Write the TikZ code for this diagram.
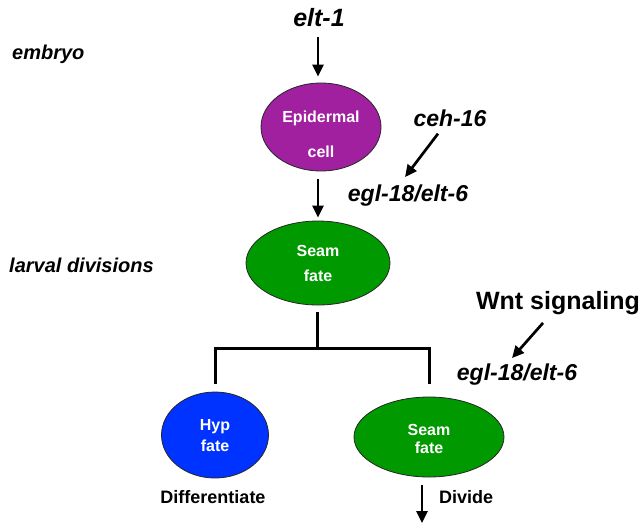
\documentclass[tikz,border=0pt]{standalone}
\usepackage{fontspec}
\setmainfont{Liberation Sans}
\usetikzlibrary{shapes.geometric,arrows.meta}
\definecolor{epi}{RGB}{160,32,160}
\definecolor{seamg}{RGB}{0,153,0}
\definecolor{hypb}{RGB}{0,51,255}
\begin{document}
\begin{tikzpicture}[x=1pt,y=-1pt,
  cell/.style={ellipse,draw=black!85,line width=0.8pt,inner sep=0pt},
  celltext/.style={text=white,font=\bfseries\fontsize{16}{16}\selectfont,inner sep=0pt},
  gene/.style={font=\bfseries\itshape\fontsize{23}{23}\selectfont,inner sep=0pt},
  stage/.style={font=\bfseries\itshape\fontsize{20}{20}\selectfont,inner sep=0pt,anchor=west},
  plain/.style={font=\bfseries\fontsize{18}{18}\selectfont,inner sep=0pt},
  arr/.style={-{Triangle[length=12pt,width=11pt]},line width=2.7pt},
  tree/.style={line width=3pt}]
\useasboundingbox (0,0) rectangle (644,523);

% left stage labels
\node[stage] (embryo) at (12,54) {embryo};
\node[stage] (larval) at (9,265) {larval divisions};

% top
\node[gene,font=\bfseries\itshape\fontsize{25}{25}\selectfont] (elt1) at (319,18) {elt-1};
\node[cell,fill=epi,minimum width=120pt,minimum height=88pt] (epi) at (321,127) {};
\node[celltext] (epiA) at (321,118) {Epidermal};
\node[celltext] (epiB) at (321,152) {cell};
\draw[arr] ([shift={(-1,10)}]elt1.south) -- ([shift={(-3,-6)}]epi.north);

\node[gene] (ceh) at (450,118) {ceh-16};
\node[gene] (egl1) at (408,196) {egl-18/elt-6};
\draw[arr] ([shift={(-12,7)}]ceh.south) -- ([shift={(-3,-8)}]egl1.north);

% seam 1
\node[cell,fill=seamg,minimum width=144pt,minimum height=84pt] (seam1) at (318,263) {};
\node[celltext] (seamA) at (318,251) {Seam};
\node[celltext] (seamB) at (318,276) {fate};
\draw[arr] ([shift={(-3,8)}]epi.south) -- ([shift={(0,-3)}]seam1.north);

% branches
\node[cell,fill=hypb,minimum width=107pt,minimum height=86pt] (hyp) at (215,435) {};
\node[celltext] (hypA) at (215,427) {Hyp};
\node[celltext] (hypB) at (215,446) {fate};
\node[cell,fill=seamg,minimum width=150pt,minimum height=80pt] (seam2) at (429,437) {};
\node[celltext] (seam2A) at (429,430) {Seam};
\node[celltext] (seam2B) at (429,448) {fate};

\coordinate (branch) at (317,348);
\draw[tree] ([shift={(-1,7)}]seam1.south) -- (branch);
\draw[tree] ([shift={(0,-8)}]hyp.north) |- (branch) -| ([shift={(0,-13)}]seam2.north);

\node[plain] (diff) at (213,497) {Differentiate};
\coordinate (divend) at (422,523);
\draw[arr] ([shift={(-7,8)}]seam2.south) -- (divend);
\node[plain,anchor=west] (divide) at (439,497) {Divide};

% Wnt
\node[font=\bfseries\fontsize{25}{25}\selectfont,inner sep=0pt] (wnt) at (558,303) {Wnt signaling};
\node[gene] (egl2) at (517,375) {egl-18/elt-6};
\draw[arr] ([shift={(-15,8)}]wnt.south) -- ([shift={(-5,-6)}]egl2.north);
\end{tikzpicture}
\end{document}
